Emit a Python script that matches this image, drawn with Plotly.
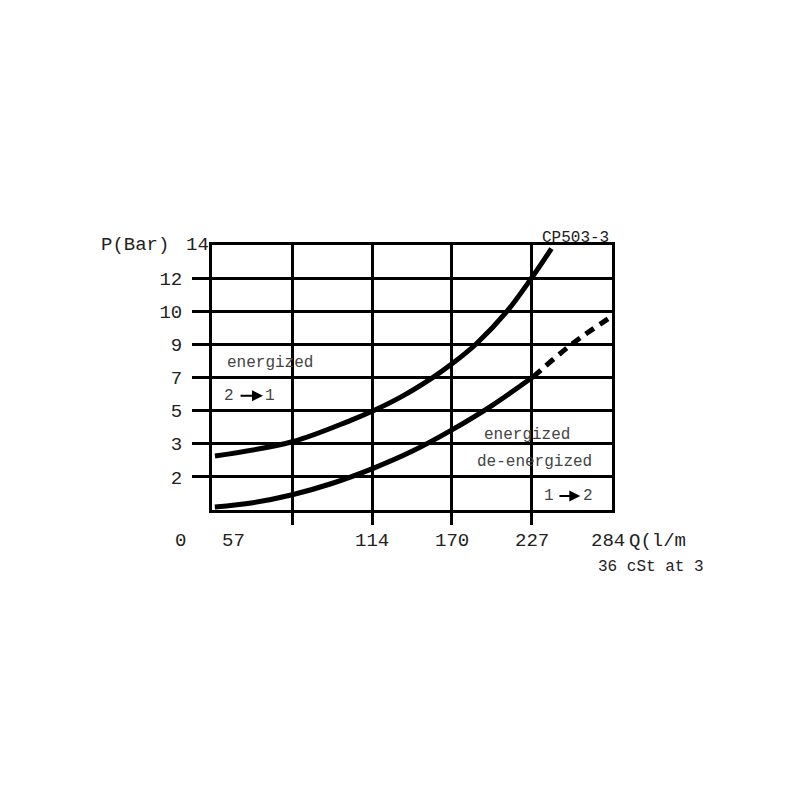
import numpy as np
import plotly.graph_objects as go

# ---- data ----
Q_TICKS = [57, 114, 170, 227, 284]                 # l/min gridlines
P_LABELS = ["2", "3", "5", "7", "9", "10", "12", "14"]  # bar, one per gridline
P_VALUES = [0, 2, 3, 5, 7, 9, 10, 12, 14]          # bar value at each grid row (0..8)

# energized 2 -> 1
q_upper = [2.1, 56.9, 98.1, 113.7, 133.6, 156.4, 170.6, 187.7, 209.7, 227.5, 241.0]
p_upper = [2.63, 3.12, 4.40, 4.96, 5.80, 6.98, 7.84, 9.02, 10.02, 12.08, 13.78]

# de-energized 1 -> 2 (solid part)
q_lower = [2, 29, 57, 85, 114, 142, 170, 199, 228]
p_lower = [0.18, 0.44, 0.92, 1.60, 2.25, 2.77, 3.82, 5.32, 7.04]

# de-energized 1 -> 2 (dashed extension)
q_lower_ext = [228, 255.9, 283.6]
p_lower_ext = [7.04, 9.02, 9.84]

ROWS = list(range(len(P_VALUES)))


def to_row(p):
    # the chart's pressure scale: equally spaced rows carrying the labels above
    return np.interp(p, P_VALUES, ROWS)


FONT = "Liberation Mono, Courier New, monospace"
TXT = "#222"
INNER = "#444"

fig = go.Figure()
fig.add_trace(go.Scatter(x=q_upper, y=to_row(p_upper), mode="lines",
                         line=dict(color="black", width=5, shape="spline"),
                         showlegend=False, hoverinfo="skip"))
fig.add_trace(go.Scatter(x=q_lower, y=to_row(p_lower), mode="lines",
                         line=dict(color="black", width=5, shape="spline"),
                         showlegend=False, hoverinfo="skip"))
fig.add_trace(go.Scatter(x=q_lower_ext, y=to_row(p_lower_ext), mode="lines",
                         line=dict(color="black", width=5, shape="spline", dash="10px,7px"),
                         showlegend=False, hoverinfo="skip"))

fig.update_layout(
    width=800, height=800,
    margin=dict(l=204, r=196, t=237, b=298),
    paper_bgcolor="white", plot_bgcolor="white",
    font=dict(family=FONT, size=19, color=TXT),
    xaxis=dict(range=[0, Q_TICKS[-1]], tickvals=Q_TICKS[:-1], ticktext=[""] * 4,
               ticks="outside", ticklen=12, tickwidth=3, tickcolor="black",
               showgrid=True, gridcolor="black", gridwidth=3,
               showline=True, linecolor="black", linewidth=3, mirror=True,
               zeroline=False, fixedrange=True),
    yaxis=dict(range=[0, ROWS[-1]], tickvals=ROWS[1:-1], ticktext=P_LABELS[:-1],
               ticks="outside", ticklen=17, tickwidth=3, tickcolor="black",
               ticklabelstandoff=6,
               tickfont=dict(family=FONT, size=19, color=TXT),
               showgrid=True, gridcolor="black", gridwidth=3,
               showline=True, linecolor="black", linewidth=3, mirror=True,
               zeroline=False, fixedrange=True),
)


def label(x, y, text, size, color=TXT, xref="x", yref="y", xanchor="center"):
    return dict(x=x, y=y, xref=xref, yref=yref, text=text, showarrow=False,
                xanchor=xanchor, yanchor="middle",
                font=dict(family=FONT, size=size, color=color))


ann = []
# y top label and axis title
ann.append(label(-0.0375, ROWS[-1], P_LABELS[-1], 19, xref="paper"))
ann.append(label(-0.193, ROWS[-1], "P(Bar)", 19, xref="paper"))
# x labels (placed as printed on the original)
ann.append(label(-0.0776, -0.117, "0", 19, xref="paper", yref="paper"))
x_lab_pos = [15, 113.6, 170.4, 227.2, 281.5]
for xp, q in zip(x_lab_pos, Q_TICKS):
    ann.append(label(xp, -0.117, str(q), 19, yref="paper"))
ann.append(label(1.038, -0.117, "Q(l/m", 19, xref="paper", yref="paper", xanchor="left"))
ann.append(label(0.96, -0.215, "36 cSt at 3", 16, xref="paper", yref="paper", xanchor="left"))
ann.append(label(0.909, 1.028, "CP503-3", 16, xref="paper", yref="paper"))
# inner labels
ann.append(label(9.2, 4.45, "energized", 16, INNER, xanchor="left"))
ann.append(label(12.4, 3.45, "2", 16, INNER))
ann.append(label(41.2, 3.45, "1", 16, INNER))
ann.append(dict(x=36.2, y=3.45, ax=19.2, ay=3.45, axref="x", ayref="y", text="",
                showarrow=True, arrowhead=2, arrowsize=1.1, arrowwidth=2, arrowcolor="black"))
ann.append(label(223.6, 2.27, "energized", 16, INNER))
ann.append(label(228.9, 1.45, "de-energized", 16, INNER))
ann.append(label(239.2, 0.42, "1", 16, INNER))
ann.append(label(267.3, 0.42, "2", 16, INNER))
ann.append(dict(x=261.5, y=0.42, ax=245.6, ay=0.42, axref="x", ayref="y", text="",
                showarrow=True, arrowhead=2, arrowsize=1.1, arrowwidth=2, arrowcolor="black"))
fig.update_layout(annotations=ann)

fig.write_html("out.html")
